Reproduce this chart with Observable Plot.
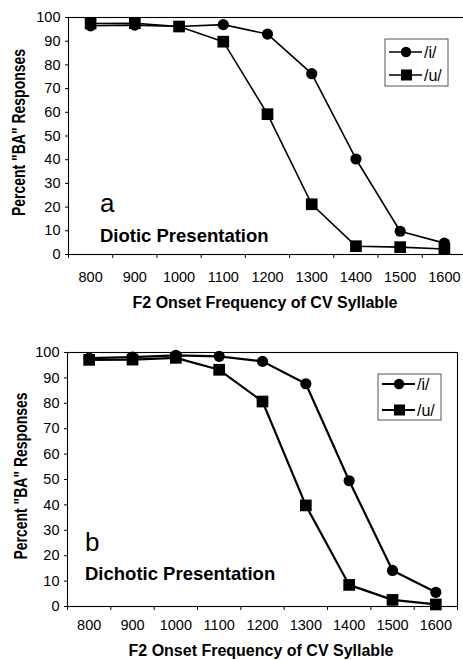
<!DOCTYPE html>
<html><head><meta charset="utf-8">
<script src="https://cdn.jsdelivr.net/npm/d3@7"></script>
<script src="https://cdn.jsdelivr.net/npm/@observablehq/plot@0.6"></script>
<style>
body{margin:0;background:#fff;}
#chart{width:463px;}
svg{display:block;font-family:"Liberation Sans",Arial,sans-serif;}
</style></head>
<body><div id="chart"></div>
<script>
const frequencies = [800, 900, 1000, 1100, 1200, 1300, 1400, 1500, 1600];
const yTicks = [0, 10, 20, 30, 40, 50, 60, 70, 80, 90, 100];
const vowels = ["/i/", "/u/"];
const dioticI = [96.5, 96.8, 96.2, 97.0, 93.0, 76.3, 40.3, 9.8, 4.8];
const dioticU = [97.5, 97.6, 96.2, 89.8, 59.2, 21.2, 3.5, 3.1, 2.3];
const dichoticI = [97.8, 98.2, 98.9, 98.5, 96.5, 87.7, 49.5, 14.2, 5.6];
const dichoticU = [97.1, 97.2, 97.9, 93.2, 80.7, 39.8, 8.5, 2.6, 0.8];
const panelLetters = ["a", "b"];
const panelTitles = ["Diotic Presentation", "Dichotic Presentation"];
const yTitle = "Percent \"BA\" Responses";
const xTitle = "F2 Onset Frequency of CV Syllable";

function rows(iv, uv) {
  const out = [];
  frequencies.forEach((f, k) => {
    out.push({f, v: iv[k], s: vowels[0]});
    out.push({f, v: uv[k], s: vowels[1]});
  });
  return out;
}

const step = frequencies[1] - frequencies[0];
const boundaries = [frequencies[0] - step / 2, ...frequencies.map(f => f + step / 2)];

function panel(cfg) {
  const data = rows(cfg.iv, cfg.uv);
  const sw = cfg.sw;
  const p = Plot.plot({
    width: 463,
    height: 330,
    marginLeft: cfg.left,
    marginRight: cfg.right,
    marginTop: cfg.top,
    marginBottom: cfg.bottom,
    style: {fontFamily: "'Liberation Sans', Arial, sans-serif", background: "white", overflow: "visible"},
    x: {type: "linear", domain: [boundaries[0], boundaries[boundaries.length - 1]]},
    y: {domain: [0, 100]},
    marks: [
      Plot.frame({stroke: "black", strokeWidth: 1.1}),
      Plot.axisY({ticks: yTicks, tickSize: 3, tickPadding: 5, fontSize: 14.5, label: null, stroke: "black", fill: "black"}),
      Plot.axisX({ticks: boundaries, tickSize: 4, tickFormat: () => "", label: null, stroke: "black"}),
      Plot.axisX({ticks: frequencies, tickSize: 0, tickPadding: cfg.xpad, fontSize: 14.5, tickFormat: d => String(d), label: null, fill: "black"}),
      Plot.line(data, {x: "f", y: "v", z: "s", stroke: "black", strokeWidth: sw}),
      Plot.dot(data.filter(d => d.s === vowels[0]), {x: "f", y: "v", symbol: "circle", r: 5.6, fill: "black"}),
      Plot.dot(data.filter(d => d.s === vowels[1]), {x: "f", y: "v", symbol: "square", r: 6.6, fill: "black"})
    ]
  });
  const svg = d3.select(p);
  const H = 330;
  const plotMid = cfg.top + (H - cfg.top - cfg.bottom) / 2;
  svg.append("text")
    .attr("transform", `translate(${cfg.ytx},${plotMid - 3}) rotate(-90) scale(1,1.3)`)
    .attr("text-anchor", "middle").attr("dominant-baseline", "central")
    .attr("font-weight", "bold").attr("font-size", 14).attr("fill", "black")
    .text(yTitle);
  svg.append("text")
    .attr("x", cfg.xtx).attr("y", cfg.xty)
    .attr("text-anchor", "middle").attr("dominant-baseline", "central")
    .attr("font-weight", "bold").attr("font-size", 16).attr("fill", "black")
    .text(xTitle);
  svg.append("text").attr("x", cfg.lx).attr("y", cfg.ly).attr("text-anchor", "start")
    .attr("font-size", 26).attr("fill", "black").text(cfg.letter);
  svg.append("text").attr("x", cfg.lx).attr("y", cfg.ty).attr("text-anchor", "start")
    .attr("dominant-baseline", "central")
    .attr("font-size", 18.5).attr("font-weight", "bold").attr("fill", "black").text(cfg.title);
  const L = cfg.legend;
  const g = svg.append("g");
  g.append("rect").attr("x", L.x).attr("y", L.y).attr("width", L.w).attr("height", L.h)
    .attr("fill", "white").attr("stroke", "#555").attr("stroke-width", 1);
  vowels.forEach((v, k) => {
    const yy = L.y + L.rows[k];
    g.append("line").attr("x1", L.x + 4).attr("x2", L.x + 37).attr("y1", yy).attr("y2", yy)
      .attr("stroke", "black").attr("stroke-width", sw);
    if (k === 0) g.append("circle").attr("cx", L.x + 21).attr("cy", yy).attr("r", 5.2).attr("fill", "black");
    else g.append("rect").attr("x", L.x + 16).attr("y", yy - 5.5).attr("width", 11).attr("height", 11).attr("fill", "black");
    g.append("text").attr("x", L.x + 39).attr("y", yy).attr("text-anchor", "start").attr("dominant-baseline", "central")
      .attr("font-size", 16).attr("fill", "black").text(v);
  });
  return p;
}

const root = document.getElementById("chart");
root.appendChild(panel({
  iv: dioticI, uv: dioticU, sw: 1.6,
  left: 68, right: -3, top: 17, bottom: 76, xpad: 17,
  ytx: 18, xtx: 265, xty: 302,
  letter: panelLetters[0], title: panelTitles[0], lx: 100, ly: 212, ty: 235,
  legend: {x: 385, y: 39, w: 63, h: 47, rows: [13, 36]}
}));
root.appendChild(panel({
  iv: dichoticI, uv: dichoticU, sw: 2.2,
  left: 67, right: 6, top: 22, bottom: 54, xpad: 13,
  ytx: 20, xtx: 261, xty: 320,
  letter: panelLetters[1], title: panelTitles[1], lx: 85, ly: 221, ty: 243,
  legend: {x: 378, y: 44, w: 63, h: 46, rows: [10, 36]}
}));
</script>
</body></html>
